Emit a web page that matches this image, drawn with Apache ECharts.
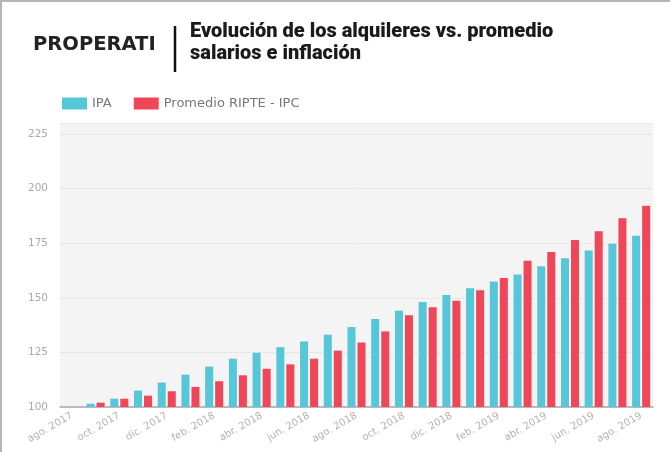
<!DOCTYPE html>
<html>
<head>
<meta charset="utf-8">
<script src="https://cdn.jsdelivr.net/npm/echarts@6/dist/echarts.min.js"></script>
<style>
  body { margin: 0; background: #fff; }
  #chart { width: 668px; height: 450px; border-left: 2px solid #b5b5b5; border-top: 2px solid #b5b5b5; }
</style>
</head>
<body>
<div id="chart"></div>
<script>
var months = ['ago. 2017', 'sep. 2017', 'oct. 2017', 'nov. 2017', 'dic. 2017',
  'ene. 2018', 'feb. 2018', 'mar. 2018', 'abr. 2018', 'may. 2018', 'jun. 2018', 'jul. 2018',
  'ago. 2018', 'sep. 2018', 'oct. 2018', 'nov. 2018', 'dic. 2018',
  'ene. 2019', 'feb. 2019', 'mar. 2019', 'abr. 2019', 'may. 2019', 'jun. 2019', 'jul. 2019',
  'ago. 2019'];
var ipa = [100, 101.5, 103.8, 107.5, 111.2, 114.8, 118.5, 122.1, 124.8, 127.4, 130.0, 133.1,
  136.6, 140.3, 144.1, 148.1, 151.3, 154.4, 157.5, 160.6, 164.4, 168.1, 171.6, 174.7, 178.4];
var ripteIpc = [100, 102, 103.8, 105.2, 107.2, 109.2, 111.8, 114.5, 117.5, 119.5, 122.1, 125.8,
  129.5, 134.6, 142.0, 145.7, 148.6, 153.4, 159.0, 166.9, 171.0, 176.4, 180.4, 186.4, 192.1];

var chartDom = document.getElementById('chart');
var myChart = echarts.init(chartDom);
var option;
option = {
  backgroundColor: '#fff',
  textStyle: {fontFamily: 'Lato, Roboto, sans-serif'},
  title: [
    {text: 'PROPERATI', left: 31, top: 33, padding: 0,
      textStyle: {fontFamily: 'DejaVu Sans', fontWeight: 'bold', fontSize: 19.5, color: '#222'}},
    {text: 'Evolución de los alquileres vs. promedio\nsalarios e inflación', left: 188, top: 19, padding: 0,
      textStyle: {fontFamily: 'Roboto', fontWeight: 900, fontSize: 20, lineHeight: 22, color: '#1a1a1a'}}
  ],
  graphic: [
    {type: 'line', shape: {x1: 173, y1: 24, x2: 173, y2: 70}, style: {stroke: '#111', lineWidth: 2.5}}
  ],
  legend: {
    left: 55, top: 90, itemWidth: 25, itemHeight: 12, itemGap: 22,
    icon: 'rect',
    textStyle: {fontSize: 13, color: '#777', fontFamily: 'DejaVu Sans'}
  },
  grid: {left: 58, right: 17, top: 121, bottom: 45, show: true, backgroundColor: '#f4f4f4', borderWidth: 0},
  xAxis: {
    type: 'category', data: months,
    axisTick: {show: false},
    axisLine: {lineStyle: {color: '#aaa', width: 1.5}},
    axisLabel: {interval: 1, rotate: 30, fontSize: 10, color: '#b3b3b3', margin: 8, fontFamily: 'DejaVu Sans'}
  },
  yAxis: {
    type: 'value', min: 100, max: 230, interval: 25,
    axisLine: {show: false}, axisTick: {show: false},
    splitLine: {lineStyle: {color: '#e7e7e7'}},
    axisLabel: {fontSize: 10.5, color: '#aaa', margin: 12, fontFamily: 'DejaVu Sans',
      formatter: function (v) { return v % 25 === 0 ? v : ''; }}
  },
  series: [
    {name: 'IPA', type: 'bar', data: ipa, color: '#56c6d9',
      barCategoryGap: '24%', barGap: '25%'},
    {name: 'Promedio RIPTE - IPC', type: 'bar', data: ripteIpc, color: '#ef4757',
      barCategoryGap: '24%', barGap: '25%'}
  ]
};
option && myChart.setOption(option);
</script>
</body>
</html>
